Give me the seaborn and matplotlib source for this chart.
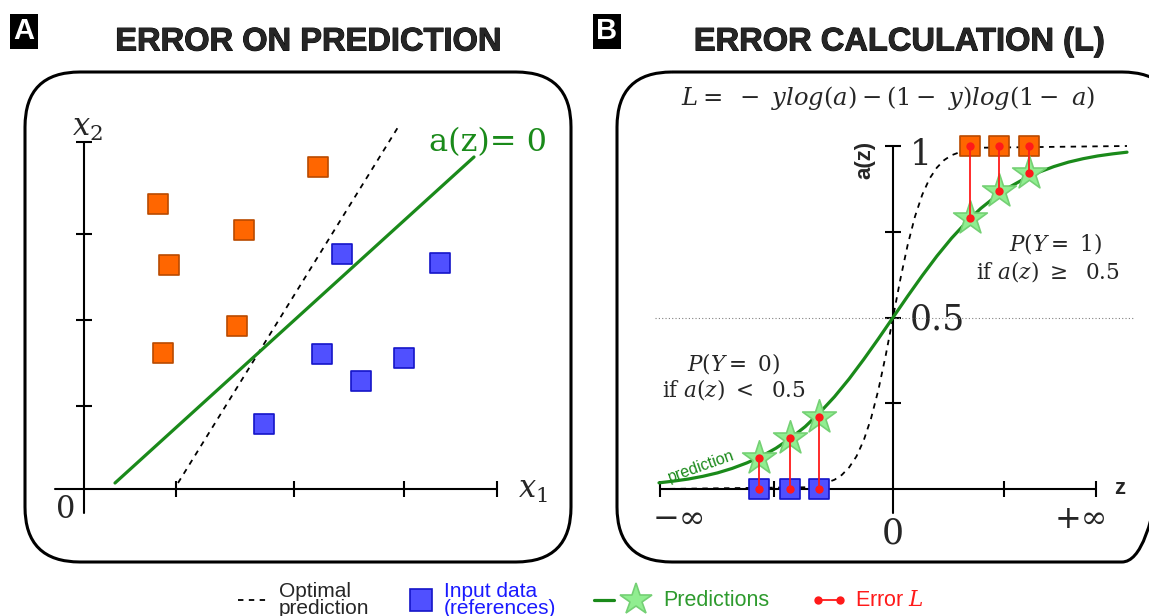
import numpy as np
import pandas as pd
import matplotlib
matplotlib.use("Agg")
import matplotlib.pyplot as plt
import matplotlib.patheffects as pe
from matplotlib.patches import FancyBboxPatch
import seaborn as sns

# ---- panel A : input data in the (x1, x2) plane ----
orange_x1 = [0.74, 1.60, 0.85, 2.34, 1.53, 0.79]
orange_x2 = [2.85, 2.59, 2.24, 3.22, 1.63, 1.36]
blue_x1 = [2.58, 3.56, 2.38, 2.77, 3.20, 1.80]
blue_x2 = [2.35, 2.26, 1.35, 1.08, 1.31, 0.65]
# decision line a(z)=0 and the optimal one (end points)
boundary_x1 = [0.31, 3.90]
boundary_x2 = [0.06, 3.32]
optimal_x1 = [0.94, 3.16]
optimal_x2 = [0.06, 3.65]
a_xticks = [0.92, 2.10, 3.20, 4.13]
a_yticks = [0.83, 1.69, 2.55, 3.47]

# ---- panel B : a(z) curves ----
curve_z = [-4.0, -3.75, -3.5, -3.25, -3.0, -2.75, -2.5, -2.25, -2.0, -1.75, -1.5, -1.25,
           -1.0, -0.75, -0.5, -0.25, 0.0, 0.25, 0.5, 0.75, 1.0, 1.25, 1.5, 1.75,
           2.0, 2.25, 2.5, 2.75, 3.0, 3.25, 3.5, 3.75, 4.0]
curve_a = [0.018, 0.023, 0.029, 0.037, 0.047, 0.060, 0.076, 0.095, 0.119, 0.148, 0.182, 0.223,
           0.269, 0.321, 0.378, 0.438, 0.5, 0.562, 0.622, 0.679, 0.731, 0.777, 0.818, 0.852,
           0.881, 0.905, 0.924, 0.940, 0.953, 0.963, 0.971, 0.977, 0.982]
optimal_z = [-4.0, -1.5, -1.25, -1.0, -0.875, -0.75, -0.625, -0.5, -0.375, -0.25, -0.125, 0.0,
             0.125, 0.25, 0.375, 0.5, 0.625, 0.75, 0.875, 1.0, 1.25, 1.5, 4.0]
optimal_a = [0.0, 0.005, 0.011, 0.027, 0.041, 0.063, 0.095, 0.142, 0.206, 0.289, 0.389, 0.5,
             0.611, 0.711, 0.794, 0.858, 0.905, 0.937, 0.959, 0.973, 0.989, 0.995, 1.0]
# predictions (stars) and references (squares)
low_z = [-2.29, -1.76, -1.26]
low_pred = [0.09, 0.15, 0.21]
low_ref = [0, 0, 0]
high_z = [1.32, 1.81, 2.32]
high_pred = [0.79, 0.87, 0.92]
high_ref = [1, 1, 1]
b_zticks = [-3.98, -2.03, 1.90, 3.47]
b_aticks = [1.0, 0.75, 0.5, 0.25]

ORANGE, ORANGE_EDGE = "#ff6600", "#b94a00"
BLUE, BLUE_EDGE = "#5050ff", "#1414c8"
GREEN = "#1a8a1a"
STAR, STAR_EDGE = "#90ee90", "#74d074"
RED = "#ff1a1a"

sns.set_theme(style="white")
plt.rcParams["font.family"] = ["Liberation Sans", "DejaVu Sans"]
plt.rcParams["mathtext.fontset"] = "dejavuserif"

W, H = 1149, 616
fig = plt.figure(figsize=(W / 100, H / 100), dpi=100)

canvas = fig.add_axes([0, 0, 1, 1])
canvas.set_xlim(0, W)
canvas.set_ylim(H, 0)
canvas.set_axis_off()


def panel_axes(left, right, top, bottom, x0, y0, sx, sy):
    ax = fig.add_axes([left / W, 1 - bottom / H, (right - left) / W, (bottom - top) / H])
    ax.set_xlim((left - x0) / sx, (right - x0) / sx)
    ax.set_ylim((y0 - bottom) / sy, (y0 - top) / sy)
    ax.set_axis_off()
    ax.patch.set_alpha(0)
    return ax


axA = panel_axes(25, 571, 70, 562, 84, 489, 100, 100)
axB = panel_axes(617, 1149, 70, 562, 893, 489, 58.5, 343)

# rounded frames
for x, w in [(25, 546), (617, 560)]:
    canvas.add_patch(FancyBboxPatch((x, 72), w, 490, boxstyle="round,pad=0,rounding_size=55",
                                    fc="none", ec="black", lw=2.2))

# panel letters and titles
heavy = [pe.withStroke(linewidth=0.7, foreground="black")]
for x, letter in [(24, "A"), (607, "B")]:
    canvas.text(x, 31, letter, color="white", fontsize=21, fontweight="bold", ha="center", va="center",
                bbox=dict(boxstyle="square,pad=0.12", fc="black", ec="none"))
canvas.text(308, 42, "ERROR ON PREDICTION", fontsize=23.5, fontweight="bold", ha="center", va="center",
            path_effects=heavy)
canvas.text(899, 42, "ERROR CALCULATION (L)", fontsize=23.5, fontweight="bold", ha="center", va="center",
            path_effects=heavy)

# ---------------- panel A ----------------
axA.plot([-0.29, 4.13], [0, 0], color="black", lw=1.5)
axA.plot([0, 0], [-0.24, 3.47], color="black", lw=1.5)
axA.plot(a_xticks, [0] * len(a_xticks), ls="none", marker="|", ms=12, mew=1.5, color="black")
axA.plot([0] * len(a_yticks), a_yticks, ls="none", marker="_", ms=12, mew=1.5, color="black")

sns.lineplot(x=optimal_x1, y=optimal_x2, ax=axA, color="black", lw=1.3, linestyle=(0, (3, 3)))
sns.lineplot(x=boundary_x1, y=boundary_x2, ax=axA, color=GREEN, lw=2.3)
sns.scatterplot(x=orange_x1, y=orange_x2, ax=axA, marker="s", s=210, color=ORANGE,
                edgecolor=ORANGE_EDGE, linewidth=1.2, zorder=3)
sns.scatterplot(x=blue_x1, y=blue_x2, ax=axA, marker="s", s=210, color=BLUE,
                edgecolor=BLUE_EDGE, linewidth=1.2, zorder=3)

canvas.text(87, 128, "$x_2$", fontsize=22, ha="center", va="center")
canvas.text(533, 490, "$x_1$", fontsize=22, ha="center", va="center")
canvas.text(66, 510, "0", fontsize=22, family="DejaVu Serif", ha="center", va="center")
canvas.text(488, 143, "a(z)= 0", fontsize=23, family="DejaVu Serif", color=GREEN, ha="center", va="center")

# ---------------- panel B ----------------
axB.plot([-3.98, 3.47], [0, 0], color="black", lw=1.5)
axB.plot([0, 0], [-0.07, 1.0], color="black", lw=1.5)
axB.plot(b_zticks, [0] * len(b_zticks), ls="none", marker="|", ms=11, mew=1.5, color="black")
axB.plot([0] * len(b_aticks), b_aticks, ls="none", marker="_", ms=12, mew=1.5, color="black")
axB.plot([-4.07, 4.14], [0.5, 0.5], color="gray", lw=0.8, ls=(0, (1, 2)))

sns.lineplot(x=optimal_z, y=optimal_a, ax=axB, color="black", lw=1.3, linestyle=(0, (3, 3)))
sns.lineplot(x=curve_z, y=curve_a, ax=axB, color=GREEN, lw=2.3)

ref_z = low_z + high_z
ref_a = low_ref + high_ref
pred_a = low_pred + high_pred
sns.scatterplot(x=low_z, y=low_ref, ax=axB, marker="s", s=190, color=BLUE,
                edgecolor=BLUE_EDGE, linewidth=1.2, zorder=3)
sns.scatterplot(x=high_z, y=high_ref, ax=axB, marker="s", s=190, color=ORANGE,
                edgecolor=ORANGE_EDGE, linewidth=1.2, zorder=3)
sns.scatterplot(x=ref_z, y=pred_a, ax=axB, marker="*", s=650, color=STAR,
                edgecolor=STAR_EDGE, linewidth=1.2, zorder=4)

err = pd.DataFrame({
    "z": ref_z + ref_z,
    "a": ref_a + pred_a,
    "id": list(range(6)) * 2,
})
sns.lineplot(data=err, x="z", y="a", units="id", estimator=None, ax=axB, color=RED, lw=1.3,
             marker="o", markersize=6, markeredgewidth=0, zorder=5)

canvas.text(888, 98, r"$L =\ -\ ylog(a) - (1 -\ y)log(1 -\ a)$", fontsize=17.5, ha="center", va="center")
canvas.text(865, 160, "a(z)", fontsize=16, fontweight="bold", rotation=90, ha="center", va="center")
canvas.text(921, 155, "1", fontsize=25, family="DejaVu Serif", ha="center", va="center")
canvas.text(937, 320, "0.5", fontsize=25, family="DejaVu Serif", ha="center", va="center")
canvas.text(893, 533, "0", fontsize=25, family="DejaVu Serif", ha="center", va="center")
canvas.text(679, 519, "\u2212\u221e", fontsize=23, family="DejaVu Serif", ha="center", va="center")
canvas.text(1081, 519, "+\u221e", fontsize=23, family="DejaVu Serif", ha="center", va="center")
canvas.text(1120, 488, "z", fontsize=16, fontweight="bold", ha="center", va="center")
canvas.text(1055, 243, r"$P(Y =\ 1)$", fontsize=15.5, ha="center", va="center")
canvas.text(1048, 271, r"if $a(z)\ \geq\ $ 0.5", fontsize=15.5, family="DejaVu Serif", ha="center", va="center")
canvas.text(733, 364, r"$P(Y =\ 0)$", fontsize=15.5, ha="center", va="center")
canvas.text(734, 389, r"if $a(z)\ <\ $ 0.5", fontsize=15.5, family="DejaVu Serif", ha="center", va="center")
canvas.text(701, 466, "prediction", fontsize=11.5, color=GREEN, rotation=19.5, ha="center", va="center")

# ---------------- legend ----------------
ly = 600
canvas.plot([238, 267], [ly, ly], color="black", lw=1.3, ls=(0, (3, 3)))
canvas.text(279, ly, "Optimal\nprediction", fontsize=15, ha="left", va="center", linespacing=0.85)
canvas.plot([421], [ly], marker="s", ms=16, color=BLUE, mec=BLUE_EDGE, mew=1.2)
canvas.text(444, ly, "Input data\n(references)", fontsize=15, color="#1a1aff", ha="left", va="center",
            linespacing=0.85)
canvas.plot([594, 614], [ly, ly], color=GREEN, lw=2.3)
canvas.plot([636], [ly], marker="*", ms=24, color=STAR, mec=STAR_EDGE, mew=1.2)
canvas.text(663, ly, "Predictions", fontsize=15.5, color="#2e9b2e", ha="left", va="center")
canvas.plot([818, 840], [ly, ly], color=RED, lw=1.3, marker="o", ms=6, mew=0)
canvas.text(855, ly, "Error $L$", fontsize=15.5, color=RED, ha="left", va="center")

fig.savefig("out.png", dpi=100)
